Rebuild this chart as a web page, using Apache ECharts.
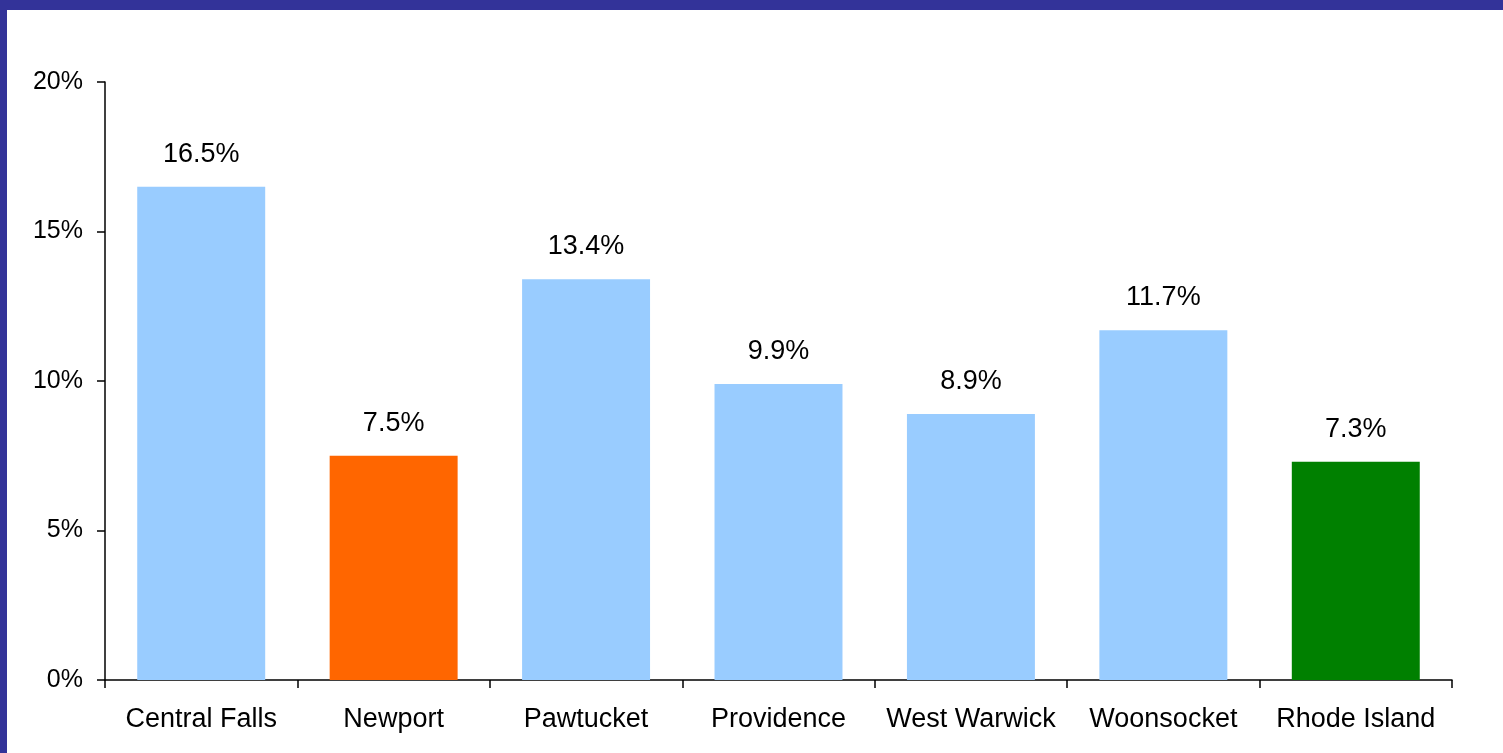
<!DOCTYPE html>
<html>
<head>
<meta charset="utf-8">
<script src="https://cdn.jsdelivr.net/npm/echarts@6/dist/echarts.min.js"></script>
<style>
html,body{margin:0;padding:0;background:#fff;}
#chart{position:absolute;left:0;top:0;width:1503px;height:753px;}
#bt{position:absolute;left:0;top:0;width:1503px;height:10px;background:#333399;}
#bl{position:absolute;left:0;top:0;width:7px;height:753px;background:#333399;}
</style>
</head>
<body>
<div id="chart"></div>
<div id="bt"></div>
<div id="bl"></div>
<script>
const categories = ['Central Falls','Newport','Pawtucket','Providence','West Warwick','Woonsocket','Rhode Island'];
const values = [16.5, 7.5, 13.4, 9.9, 8.9, 11.7, 7.3];
const barColors = ['#99CCFF','#FF6600','#99CCFF','#99CCFF','#99CCFF','#99CCFF','#008000'];

const chart = echarts.init(document.getElementById('chart'), null, {renderer:'canvas'});
const font = 'Liberation Sans, Arial, sans-serif';
chart.setOption({
  animation:false,
  backgroundColor:'#fff',
  grid:{left:105, right:51, top:82, bottom:73, containLabel:false},
  xAxis:{
    type:'category', data:categories,
    axisLine:{lineStyle:{color:'#000', width:1.5}},
    axisTick:{show:true, interval:0, length:8, lineStyle:{color:'#000', width:1.5}, alignWithLabel:false},
    axisLabel:{color:'#000', fontSize:27, fontFamily:font, margin:26, interval:0}
  },
  yAxis:{
    type:'value', min:0, max:20, interval:5,
    axisLine:{show:true, lineStyle:{color:'#000', width:1.5}},
    axisTick:{show:true, length:8, lineStyle:{color:'#000', width:1.5}},
    splitLine:{show:false},
    axisLabel:{color:'#000', fontSize:25, fontFamily:font, margin:22, formatter:'{value}%'}
  },
  series:[{
    type:'bar',
    data: values.map((v,i)=>({value:v, itemStyle:{color:barColors[i]}})),
    barWidth:'66.5%',
    label:{show:true, position:'top', distance:19, color:'#000', fontSize:27, fontFamily:font,
      formatter:p=>p.value.toFixed(1)+'%'}
  }]
});
</script>
</body>
</html>
